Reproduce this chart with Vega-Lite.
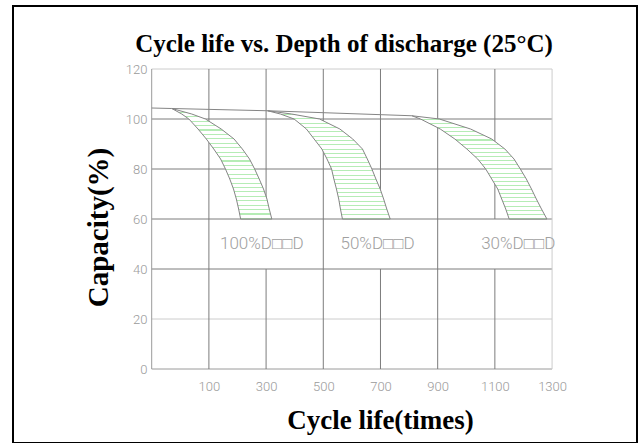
{
  "$schema": "https://vega.github.io/schema/vega-lite/v6.json",
  "width": 624,
  "height": 437,
  "autosize": {"type": "none"},
  "padding": {"left": 13, "top": 6, "right": 1, "bottom": 0},
  "background": "white",
  "config": {"view": {"stroke": "black", "strokeWidth": 2}},
  "title": {
    "text": "Cycle life vs. Depth of discharge (25°C)",
    "font": "Liberation Serif",
    "fontSize": 25,
    "fontWeight": "bold",
    "color": "black",
    "anchor": "middle",
    "frame": "group",
    "baseline": "alphabetic",
    "offset": -71,
    "dx": 19
  },
  "datasets": {
    "grid": [
      {"x": -100, "x2": 1300, "y": 0, "y2": 0, "kind": "axis"},
      {"x": -100, "x2": 1300, "y": 20, "y2": 20, "kind": "light"},
      {"x": -100, "x2": 1300, "y": 40, "y2": 40, "kind": "grid"},
      {"x": -100, "x2": 1300, "y": 60, "y2": 60, "kind": "grid"},
      {"x": -100, "x2": 1300, "y": 80, "y2": 80, "kind": "grid"},
      {"x": -100, "x2": 1300, "y": 100, "y2": 100, "kind": "grid"},
      {"x": -100, "x2": 1300, "y": 120, "y2": 120, "kind": "light"},
      {"x": -100, "x2": -100, "y": 0, "y2": 120, "kind": "axis"},
      {"x": 100, "x2": 100, "y": 0, "y2": 120, "kind": "grid"},
      {"x": 300, "x2": 300, "y": 0, "y2": 40, "kind": "grid"},
      {"x": 300, "x2": 300, "y": 60, "y2": 120, "kind": "grid"},
      {"x": 500, "x2": 500, "y": 0, "y2": 120, "kind": "grid"},
      {"x": 700, "x2": 700, "y": 0, "y2": 40, "kind": "grid"},
      {"x": 700, "x2": 700, "y": 60, "y2": 120, "kind": "grid"},
      {"x": 900, "x2": 900, "y": 0, "y2": 120, "kind": "grid"},
      {"x": 1100, "x2": 1100, "y": 0, "y2": 40, "kind": "grid"},
      {"x": 1100, "x2": 1100, "y": 60, "y2": 120, "kind": "grid"},
      {"x": 1300, "x2": 1300, "y": 0, "y2": 120, "kind": "light"}
    ],
    "bands": [
      {"dod": "100%", "y": 104.2, "x": -29.6, "x2": -29.6},
      {"dod": "100%", "y": 102, "x": 5, "x2": 40},
      {"dod": "100%", "y": 100, "x": 30, "x2": 88},
      {"dod": "100%", "y": 96, "x": 62, "x2": 143},
      {"dod": "100%", "y": 92, "x": 91, "x2": 188},
      {"dod": "100%", "y": 88, "x": 117, "x2": 217},
      {"dod": "100%", "y": 84, "x": 141, "x2": 242},
      {"dod": "100%", "y": 80, "x": 158, "x2": 260},
      {"dod": "100%", "y": 76, "x": 173, "x2": 276},
      {"dod": "100%", "y": 72, "x": 186, "x2": 291},
      {"dod": "100%", "y": 68, "x": 196, "x2": 303},
      {"dod": "100%", "y": 64, "x": 204, "x2": 311},
      {"dod": "100%", "y": 60, "x": 211, "x2": 320},
      {"dod": "50%", "y": 103.3, "x": 305, "x2": 305},
      {"dod": "50%", "y": 102, "x": 350, "x2": 389},
      {"dod": "50%", "y": 100, "x": 398, "x2": 487},
      {"dod": "50%", "y": 96, "x": 441, "x2": 558},
      {"dod": "50%", "y": 92, "x": 468, "x2": 603},
      {"dod": "50%", "y": 88, "x": 495, "x2": 637},
      {"dod": "50%", "y": 84, "x": 513, "x2": 654},
      {"dod": "50%", "y": 80, "x": 529, "x2": 670},
      {"dod": "50%", "y": 76, "x": 537, "x2": 684},
      {"dod": "50%", "y": 72, "x": 546, "x2": 699},
      {"dod": "50%", "y": 68, "x": 554, "x2": 711},
      {"dod": "50%", "y": 64, "x": 560, "x2": 722},
      {"dod": "50%", "y": 60, "x": 567, "x2": 734},
      {"dod": "30%", "y": 101.3, "x": 810, "x2": 810},
      {"dod": "30%", "y": 100, "x": 840, "x2": 906},
      {"dod": "30%", "y": 96, "x": 909, "x2": 1015},
      {"dod": "30%", "y": 92, "x": 960, "x2": 1089},
      {"dod": "30%", "y": 88, "x": 1002, "x2": 1135},
      {"dod": "30%", "y": 84, "x": 1040, "x2": 1167},
      {"dod": "30%", "y": 80, "x": 1068, "x2": 1189},
      {"dod": "30%", "y": 76, "x": 1089, "x2": 1210},
      {"dod": "30%", "y": 72, "x": 1110, "x2": 1228},
      {"dod": "30%", "y": 68, "x": 1124, "x2": 1245},
      {"dod": "30%", "y": 64, "x": 1138, "x2": 1263},
      {"dod": "30%", "y": 60, "x": 1150, "x2": 1282}
    ],
    "top": [
      {"x": -100, "y": 104.4},
      {"x": -30, "y": 104.2},
      {"x": 305, "y": 103.3},
      {"x": 810, "y": 101.3}
    ],
    "labels": [
      {"x": 285, "y": 50, "text": "100%D□□D"},
      {"x": 690, "y": 50, "text": "50%D□□D"},
      {"x": 1182, "y": 50, "text": "30%D□□D"}
    ]
  },
  "encoding": {
    "x": {
      "field": "x", "type": "quantitative",
      "scale": {"domain": [-585, 1597], "nice": false, "zero": false},
      "axis": {
        "values": [100, 300, 500, 700, 900, 1100, 1300],
        "format": "d",
        "grid": false, "domain": false, "ticks": false,
        "offset": -74,
        "labelPadding": 11,
        "labelFont": "Roboto",
        "labelFontWeight": 300,
        "labelFontSize": 13,
        "labelColor": "#9a9a9a",
        "title": "Cycle life(times)",
        "titleFont": "Liberation Serif",
        "titleFontSize": 27,
        "titleFontWeight": "bold",
        "titleColor": "black",
        "titleX": 367,
        "titleY": 59,
        "titleBaseline": "alphabetic",
        "titleAlign": "center"
      }
    },
    "y": {
      "field": "y", "type": "quantitative",
      "scale": {"domain": [-29.6, 145.2], "nice": false, "zero": false},
      "axis": {
        "values": [0, 20, 40, 60, 80, 100, 120],
        "format": "d",
        "grid": false, "domain": false, "ticks": false,
        "offset": -139,
        "labelPadding": 5,
        "labelFont": "Roboto",
        "labelFontWeight": 300,
        "labelFontSize": 13,
        "labelColor": "#9a9a9a",
        "title": "Capacity(%)",
        "titleFont": "Liberation Serif",
        "titleFontSize": 29,
        "titleFontWeight": "bold",
        "titleColor": "black",
        "titleAngle": 270,
        "titleX": -45,
        "titleY": 221,
        "titleBaseline": "alphabetic",
        "titleAlign": "center"
      }
    }
  },
  "layer": [
    {
      "data": {"name": "grid"},
      "mark": {"type": "rule", "strokeWidth": 1},
      "encoding": {
        "x2": {"field": "x2"},
        "y2": {"field": "y2"},
        "color": {
          "field": "kind", "type": "nominal", "legend": null,
          "scale": {"domain": ["axis", "grid", "light"], "range": ["#9a9a9a", "#7c7c7c", "#cccccc"]}
        }
      }
    },
    {
      "data": {"name": "bands"},
      "mark": {
        "type": "area",
        "orient": "horizontal",
        "stroke": "#858585",
        "strokeWidth": 1,
        "fill": {
          "gradient": "linear", "x1": 0, "y1": 0, "x2": 0, "y2": 1,
          "stops": [
            {"offset": 0, "color": "#ffffff"}, {"offset": 0.03, "color": "#ffffff"}, {"offset": 0.03, "color": "#b5ecb5"}, {"offset": 0.04, "color": "#b5ecb5"},
            {"offset": 0.04, "color": "#ffffff"}, {"offset": 0.07, "color": "#ffffff"}, {"offset": 0.07, "color": "#b5ecb5"}, {"offset": 0.08, "color": "#b5ecb5"},
            {"offset": 0.08, "color": "#ffffff"}, {"offset": 0.11, "color": "#ffffff"}, {"offset": 0.11, "color": "#b5ecb5"}, {"offset": 0.12, "color": "#b5ecb5"},
            {"offset": 0.12, "color": "#ffffff"}, {"offset": 0.15, "color": "#ffffff"}, {"offset": 0.15, "color": "#b5ecb5"}, {"offset": 0.16, "color": "#b5ecb5"},
            {"offset": 0.16, "color": "#ffffff"}, {"offset": 0.19, "color": "#ffffff"}, {"offset": 0.19, "color": "#b5ecb5"}, {"offset": 0.2, "color": "#b5ecb5"},
            {"offset": 0.2, "color": "#ffffff"}, {"offset": 0.23, "color": "#ffffff"}, {"offset": 0.23, "color": "#b5ecb5"}, {"offset": 0.24, "color": "#b5ecb5"},
            {"offset": 0.24, "color": "#ffffff"}, {"offset": 0.27, "color": "#ffffff"}, {"offset": 0.27, "color": "#b5ecb5"}, {"offset": 0.28, "color": "#b5ecb5"},
            {"offset": 0.28, "color": "#ffffff"}, {"offset": 0.31, "color": "#ffffff"}, {"offset": 0.31, "color": "#b5ecb5"}, {"offset": 0.32, "color": "#b5ecb5"},
            {"offset": 0.32, "color": "#ffffff"}, {"offset": 0.35, "color": "#ffffff"}, {"offset": 0.35, "color": "#b5ecb5"}, {"offset": 0.36, "color": "#b5ecb5"},
            {"offset": 0.36, "color": "#ffffff"}, {"offset": 0.39, "color": "#ffffff"}, {"offset": 0.39, "color": "#b5ecb5"}, {"offset": 0.4, "color": "#b5ecb5"},
            {"offset": 0.4, "color": "#ffffff"}, {"offset": 0.43, "color": "#ffffff"}, {"offset": 0.43, "color": "#b5ecb5"}, {"offset": 0.44, "color": "#b5ecb5"},
            {"offset": 0.44, "color": "#ffffff"}, {"offset": 0.47, "color": "#ffffff"}, {"offset": 0.47, "color": "#b5ecb5"}, {"offset": 0.48, "color": "#b5ecb5"},
            {"offset": 0.48, "color": "#ffffff"}, {"offset": 0.51, "color": "#ffffff"}, {"offset": 0.51, "color": "#b5ecb5"}, {"offset": 0.52, "color": "#b5ecb5"},
            {"offset": 0.52, "color": "#ffffff"}, {"offset": 0.55, "color": "#ffffff"}, {"offset": 0.55, "color": "#b5ecb5"}, {"offset": 0.56, "color": "#b5ecb5"},
            {"offset": 0.56, "color": "#ffffff"}, {"offset": 0.59, "color": "#ffffff"}, {"offset": 0.59, "color": "#b5ecb5"}, {"offset": 0.6, "color": "#b5ecb5"},
            {"offset": 0.6, "color": "#ffffff"}, {"offset": 0.63, "color": "#ffffff"}, {"offset": 0.63, "color": "#b5ecb5"}, {"offset": 0.64, "color": "#b5ecb5"},
            {"offset": 0.64, "color": "#ffffff"}, {"offset": 0.67, "color": "#ffffff"}, {"offset": 0.67, "color": "#b5ecb5"}, {"offset": 0.68, "color": "#b5ecb5"},
            {"offset": 0.68, "color": "#ffffff"}, {"offset": 0.71, "color": "#ffffff"}, {"offset": 0.71, "color": "#b5ecb5"}, {"offset": 0.72, "color": "#b5ecb5"},
            {"offset": 0.72, "color": "#ffffff"}, {"offset": 0.75, "color": "#ffffff"}, {"offset": 0.75, "color": "#b5ecb5"}, {"offset": 0.76, "color": "#b5ecb5"},
            {"offset": 0.76, "color": "#ffffff"}, {"offset": 0.79, "color": "#ffffff"}, {"offset": 0.79, "color": "#b5ecb5"}, {"offset": 0.8, "color": "#b5ecb5"},
            {"offset": 0.8, "color": "#ffffff"}, {"offset": 0.83, "color": "#ffffff"}, {"offset": 0.83, "color": "#b5ecb5"}, {"offset": 0.84, "color": "#b5ecb5"},
            {"offset": 0.84, "color": "#ffffff"}, {"offset": 0.87, "color": "#ffffff"}, {"offset": 0.87, "color": "#b5ecb5"}, {"offset": 0.88, "color": "#b5ecb5"},
            {"offset": 0.88, "color": "#ffffff"}, {"offset": 0.91, "color": "#ffffff"}, {"offset": 0.91, "color": "#b5ecb5"}, {"offset": 0.92, "color": "#b5ecb5"},
            {"offset": 0.92, "color": "#ffffff"}, {"offset": 0.95, "color": "#ffffff"}, {"offset": 0.95, "color": "#b5ecb5"}, {"offset": 0.96, "color": "#b5ecb5"},
            {"offset": 0.96, "color": "#ffffff"}, {"offset": 0.99, "color": "#ffffff"}, {"offset": 0.99, "color": "#b5ecb5"}, {"offset": 1, "color": "#b5ecb5"}
          ]
        }
      },
      "encoding": {
        "x2": {"field": "x2"},
        "detail": {"field": "dod", "type": "nominal"}
      }
    },
    {
      "data": {"name": "top"},
      "mark": {"type": "line", "stroke": "#858585", "strokeWidth": 1},
      "encoding": {}
    },
    {
      "data": {"name": "labels"},
      "mark": {"type": "text", "font": "Roboto", "fontWeight": 300, "fontSize": 17, "color": "#a0a0a0", "align": "center", "baseline": "middle"},
      "encoding": {
        "text": {"field": "text"}
      }
    }
  ]
}
